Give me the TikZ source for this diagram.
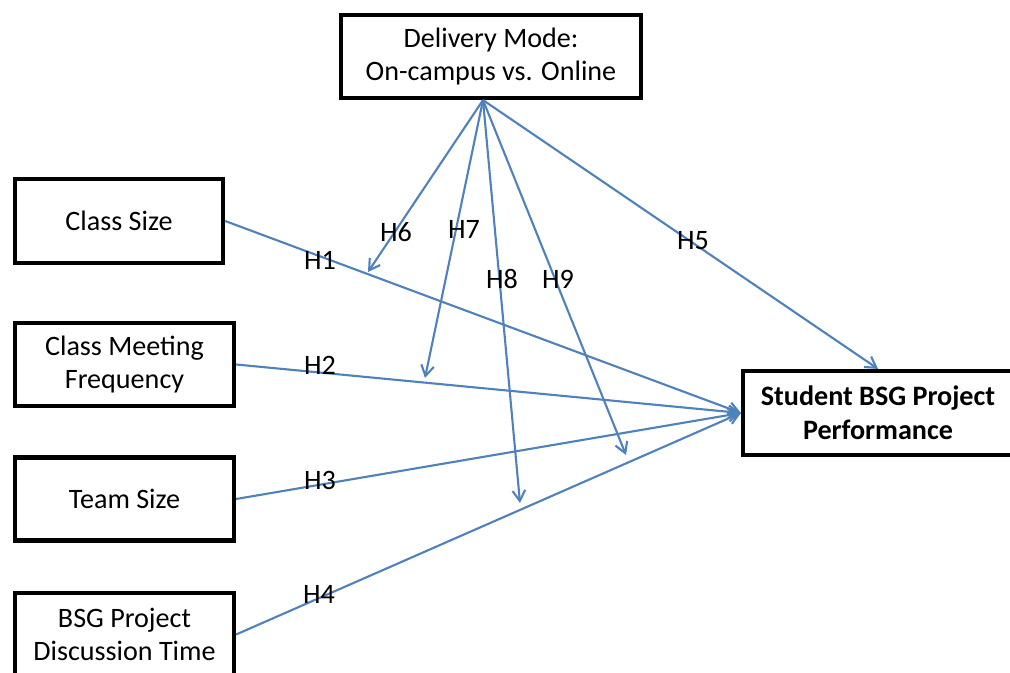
\documentclass[tikz,border=0pt]{standalone}
\usepackage{fontspec}
\setmainfont{Carlito}
\usepackage{tikz}
\usetikzlibrary{arrows.meta, calc}

\definecolor{linkblue}{RGB}{79,129,189}
\tikzset{
    varbox/.style={draw, line width=1.2pt, align=center, inner sep=1pt,
        font=\fontsize{8}{9.6}\selectfont},
    hyp/.style={font=\fontsize{8}{9.6}\selectfont, inner sep=0pt},
    effect/.style={draw=linkblue, line width=0.6pt, -{Straight Barb[length=3pt, width=3.6pt]}},
    moder/.style={draw=linkblue, line width=0.6pt, -{Straight Barb[length=3pt, width=3.6pt]}}
}

\begin{document}
\begin{tikzpicture}
    \clip (0,0) rectangle (10.1,6.73);

    \node[varbox, minimum width=3.0cm, minimum height=0.83cm] (mode) at (4.91, 6.165) {Delivery Mode:\\On-campus vs. Online};

    \node[varbox, minimum width=2.08cm, minimum height=0.84cm] (size) at (1.19, 4.52) {Class Size};
    \node[varbox, minimum width=2.19cm, minimum height=0.83cm] (freq) at (1.245, 3.085) {Class Meeting\\Frequency};
    \node[varbox, minimum width=2.19cm, minimum height=0.83cm] (team) at (1.245, 1.74) {Team Size};
    \node[varbox, minimum width=2.19cm, minimum height=0.83cm] (disc) at (1.245, 0.385) {BSG Project\\Discussion Time};

    \node[varbox, minimum width=2.70cm, minimum height=0.84cm, font=\fontsize{8}{9.6}\selectfont\bfseries] (perf) at (8.78, 2.60) {Student BSG Project\\Performance};

    % direct effects
    \draw[effect] (size.east) -- (perf.west);
    \draw[effect] (freq.east) -- (perf.west);
    \draw[effect] (team.east) -- (perf.west);
    \draw[effect] (disc.east) -- (perf.west);

    % moderation
    \coordinate (hub) at ($(mode.south) + (-0.08, 0)$);
    \coordinate (m6) at (3.68, 4.01);
    \coordinate (m7) at (4.25, 2.95);
    \coordinate (m8) at (5.20, 1.70);
    \coordinate (m9) at (6.26, 2.18);

    \draw[moder] (hub) -- (perf.north);
    \draw[moder] (hub) -- (m6);
    \draw[moder] (hub) -- (m7);
    \draw[moder] (hub) -- (m8);
    \draw[moder] (hub) -- (m9);

    \node[hyp] (h1) at (3.20, 4.13) {H1};
    \node[hyp] (h2) at (3.20, 3.08) {H2};
    \node[hyp] (h3) at (3.20, 1.93) {H3};
    \node[hyp] (h4) at (3.19, 0.79) {H4};
    \node[hyp] (h5) at (6.93, 4.32) {H5};
    \node[hyp] (h6) at (3.96, 4.41) {H6};
    \node[hyp] (h7) at (4.64, 4.44) {H7};
    \node[hyp] (h8) at (5.02, 3.94) {H8};
    \node[hyp] (h9) at (5.58, 3.94) {H9};

\end{tikzpicture}
\end{document}
